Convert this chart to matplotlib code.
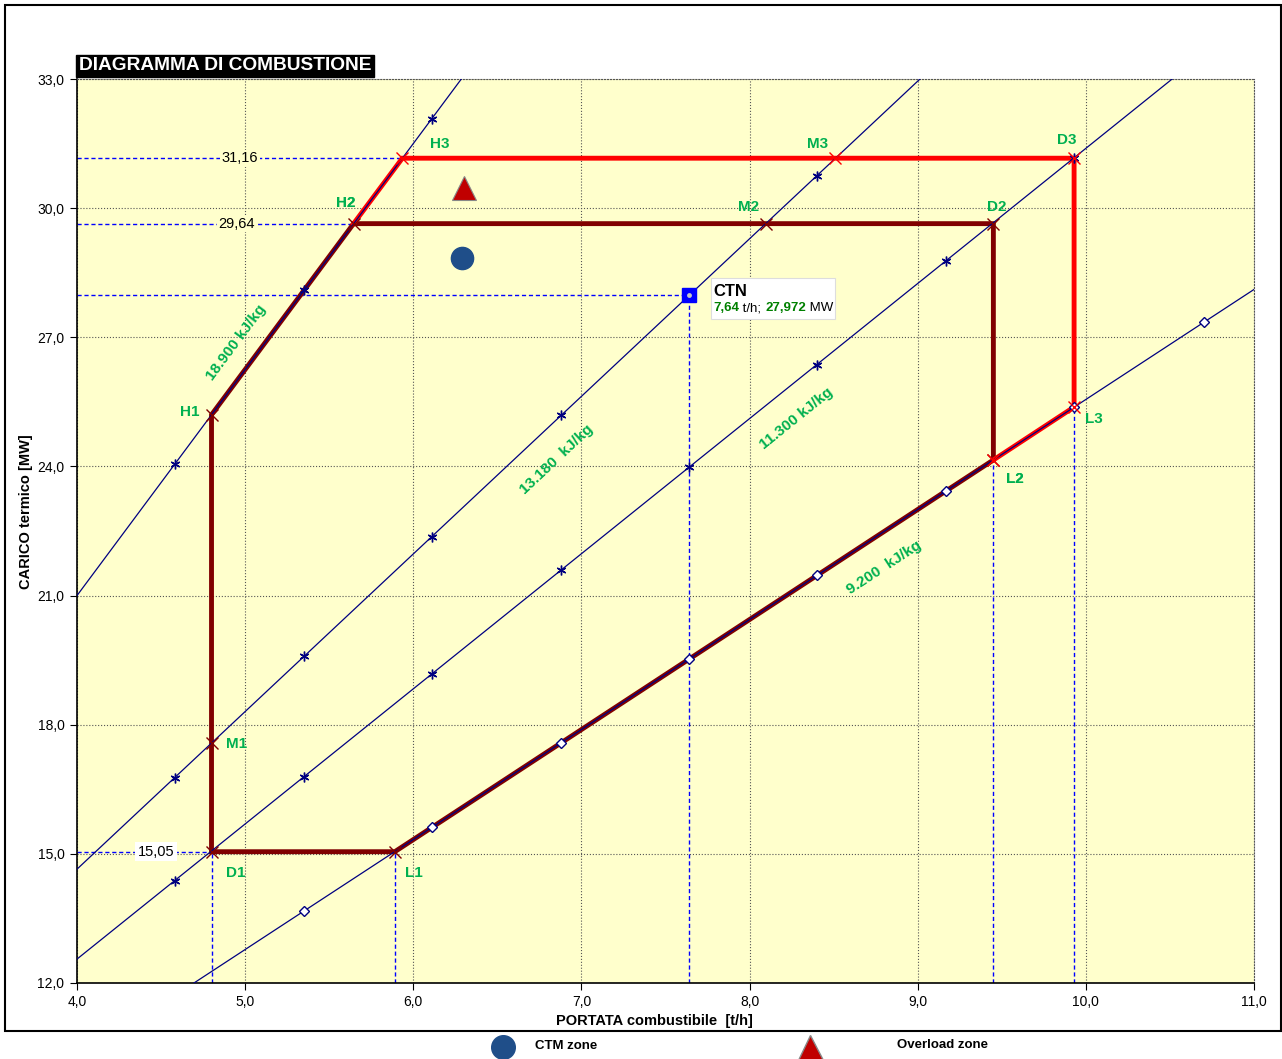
import matplotlib
matplotlib.use('Agg')
import matplotlib.pyplot as plt
from matplotlib.lines import Line2D
from matplotlib.patches import Rectangle
from matplotlib.ticker import FuncFormatter

plt.rcParams['font.family'] = ['Liberation Sans', 'DejaVu Sans']

# iso-PCI lines (kJ/kg) and where the small markers sit on each one
pci_values = [18900, 13180, 11300, 9200]
pci_labels = ['18.900 kJ/kg', '13.180  kJ/kg', '11.300 kJ/kg', '9.200  kJ/kg']
marker_flows = {
    18900: [4.58, 5.35, 6.11],
    13180: [4.58, 5.35, 6.11, 6.88, 8.40],
    11300: [4.58, 5.35, 6.11, 6.88, 7.64, 8.40, 9.17, 9.93],
    9200: [5.35, 6.11, 6.88, 7.64, 8.40, 9.17, 9.93, 10.70],
}

# operating envelope points (t/h, MW)
dark_names = ['D1', 'L1', 'L2', 'D2', 'M2', 'H2', 'H1', 'M1']
dark_x = [4.80, 5.89, 9.45, 9.45, 8.10, 5.645, 4.80, 4.80]
dark_y = [15.05, 15.05, 24.15, 29.64, 29.64, 29.64, 25.20, 17.57]

red_names = ['H2', 'H3', 'M3', 'D3', 'L3', 'L2']
red_x = [5.645, 5.935, 8.51, 9.93, 9.93, 9.45]
red_y = [29.64, 31.16, 31.16, 31.16, 25.38, 24.15]

# nominal point
ctn_flow = 7.64
ctn_load = 27.972

ctm_zone = (6.29, 28.84)
overload_zone = (6.30, 30.47)

fig = plt.figure(figsize=(12.82, 10.59), dpi=100)
ax = fig.add_axes([77 / 1282, 1 - 983 / 1059, 1177 / 1282, 904 / 1059])
ax.set_facecolor('#FFFFCC')
ax.set_xlim(4, 11)
ax.set_ylim(12, 33)

ax.set_xticks([4, 5, 6, 7, 8, 9, 10, 11])
ax.set_yticks([12, 15, 18, 21, 24, 27, 30, 33])
fmt = FuncFormatter(lambda v, p: ('%.1f' % v).replace('.', ','))
ax.xaxis.set_major_formatter(fmt)
ax.yaxis.set_major_formatter(fmt)
ax.tick_params(direction='out', length=5, labelsize=10, pad=4)
ax.grid(True, linestyle=':', color='#555555', linewidth=0.8)
ax.set_axisbelow(True)
for s in ['top', 'right']:
    ax.spines[s].set_linestyle(':')
    ax.spines[s].set_color('#555555')
for s in ['left', 'bottom']:
    ax.spines[s].set_linewidth(1.2)

# iso lines
for pci in pci_values:
    k = pci / 3600.0
    ax.plot([0, 12], [0, 12 * k], color='#000080', lw=0.9, zorder=6)
    xs = marker_flows[pci]
    ys = [x * k for x in xs]
    if pci == 9200:
        ax.plot(xs, ys, ls='none', marker='D', ms=5, mfc='white', mec='#000080',
                mew=1, zorder=7)
    else:
        ax.plot(xs, ys, ls='none', marker=(6, 2, 0), ms=7, mec='#000080',
                mew=1, zorder=7)

# dashed reference lines
ref = dict(color='#0000FF', lw=1.0, ls=(0, (3, 2)), zorder=2)
ax.plot([4, 5.935], [31.16, 31.16], **ref)
ax.plot([4, 5.645], [29.64, 29.64], **ref)
ax.plot([4, ctn_flow], [ctn_load, ctn_load], **ref)
ax.plot([ctn_flow, ctn_flow], [12, ctn_load], **ref)
ax.plot([4, 4.80], [15.05, 15.05], **ref)
ax.plot([4.80, 4.80], [12, 15.05], **ref)
ax.plot([5.89, 5.89], [12, 15.05], **ref)
ax.plot([9.45, 9.45], [12, 24.15], **ref)
ax.plot([9.93, 9.93], [12, 25.38], **ref)

ax.text(4.97, 31.16, '31,16', fontsize=10.5, ha='center', va='center', zorder=4,
        bbox=dict(fc='#FFFFCC', ec='none', pad=1))
ax.text(4.95, 29.64, '29,64', fontsize=10.5, ha='center', va='center', zorder=4,
        bbox=dict(fc='#FFFFCC', ec='none', pad=1))
ax.text(4.47, 15.05, '15,05', fontsize=10.5, ha='center', va='center', zorder=4,
        bbox=dict(fc='white', ec='none', pad=2))

# envelopes
ax.plot(dark_x + [dark_x[0]], dark_y + [dark_y[0]], color='#800000', lw=3.5,
        zorder=5, solid_joinstyle='miter')
ax.plot(red_x, red_y, color='#FF0000', lw=3.5, zorder=5, solid_joinstyle='miter')
ax.plot(dark_x, dark_y, ls='none', marker='x', ms=9, mec='#800000', mew=1, zorder=8)
ax.plot(red_x[1:], red_y[1:], ls='none', marker='x', ms=9, mec='#FF0000', mew=1, zorder=8)

green = '#00B050'
# label offsets in pixels from the point (centre of text)
label_off = {
    'H1': (-22, 3), 'H2': (-8, 21), 'H3': (37, 14), 'M2': (-18, 17),
    'M3': (-18, 14), 'D2': (3, 17), 'D3': (-7, 18), 'L2': (21, -19),
    'L3': (20, -12), 'D1': (24, -21), 'L1': (19, -21), 'M1': (25, -1),
}
for n, x, y in list(zip(dark_names, dark_x, dark_y)) + list(zip(red_names, red_x, red_y)):
    ax.annotate(n, (x, y), xytext=label_off[n], textcoords='offset pixels',
                color=green, fontsize=11, fontweight='bold', ha='center',
                va='center', zorder=9)

# iso line labels
iso_text = [(4.95, 26.87, 53.4), (6.855, 24.15, 43.2), (8.277, 25.12, 38.8), (8.80, 21.64, 33.2)]
for lab, (x, y, r) in zip(pci_labels, iso_text):
    ax.text(x, y, lab, color=green, fontsize=11, fontweight='bold', rotation=r,
            ha='center', va='center', rotation_mode='anchor', zorder=9)

# CTN point
ax.plot([ctn_flow], [ctn_load], marker='s', ms=10, mfc='#0000FF', mec='#0000FF', zorder=9)
ax.plot([ctn_flow], [ctn_load], marker='o', ms=3.5, mfc='#C8C8C8', mec='none', zorder=10)
ax.add_patch(Rectangle((7.77, 27.42), 0.74, 0.95, fc='white', ec='#DDDDDD', lw=0.8, zorder=8))
ax.text(7.785, 28.06, 'CTN', fontsize=12, fontweight='bold', va='center', zorder=9)
t = ax.text(7.785, 27.68, '7,64', fontsize=9.5, fontweight='bold', color='#008000',
            va='center', zorder=9)
t = ax.annotate(' t/h; ', xycoords=t, xy=(1, 0), va='bottom', fontsize=9.5, zorder=9)
t = ax.annotate('27,972', xycoords=t, xy=(1, 0), va='bottom', fontsize=9.5,
                fontweight='bold', color='#008000', zorder=9)
ax.annotate(' MW', xycoords=t, xy=(1, 0), va='bottom', fontsize=9.5, zorder=9)

# zone markers
ax.plot([ctm_zone[0]], [ctm_zone[1]], marker='o', ms=16, mfc='#1F4E89', mec='#1F4E89', zorder=9)
ax.plot([overload_zone[0]], [overload_zone[1]], marker='^', ms=17, mfc='#C00000',
        mec='#888888', mew=0.8, zorder=9)

ax.set_xlabel('PORTATA combustibile  [t/h]', fontsize=10.5, fontweight='bold')
ax.set_ylabel('CARICO termico [MW]', fontsize=10.5, fontweight='bold')
ax.xaxis.set_label_coords(0.491, -0.034)
ax.yaxis.set_label_coords(-0.037, 0.521)

# title box
fig.text(79 / 1282, 1 - 66 / 1059, 'DIAGRAMMA DI COMBUSTIONE', color='white',
         fontsize=13.8, fontweight='bold', va='center', ha='left',
         bbox=dict(fc='black', ec='black', pad=2))

# outer frame
fig.add_artist(Rectangle((5 / 1282, 1 - 1031 / 1059), 1276 / 1282, 1026 / 1059,
                         transform=fig.transFigure, fill=False, ec='black', lw=1.5))

# legend below frame
fig.add_artist(Line2D([503 / 1282], [1 - 1047 / 1059], transform=fig.transFigure,
                      marker='o', ms=17, mfc='#1F4E89', mec='#1F4E89', ls='none'))
fig.add_artist(Line2D([810 / 1282], [1 - 1047 / 1059], transform=fig.transFigure,
                      marker='^', ms=18, mfc='#C00000', mec='#888888', ls='none'))
fig.text(535 / 1282, 1 - 1046 / 1059, 'CTM zone', fontsize=9.5, fontweight='bold',
         va='center')
fig.text(897 / 1282, 1 - 1045 / 1059, 'Overload zone', fontsize=9.5, fontweight='bold',
         va='center')

fig.savefig('out.png', dpi=100)
